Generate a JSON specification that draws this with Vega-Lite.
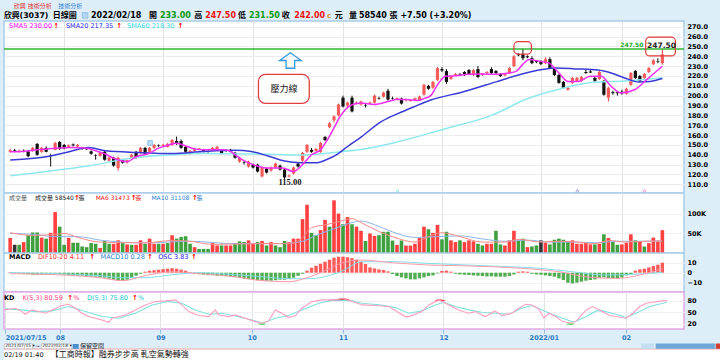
{
"$schema":"https://vega.github.io/schema/vega-lite/v6.json",
"background":"#ddeef9",
"padding":{"left":2,"top":0,"right":0,"bottom":0},
"bounds":"flush",
"spacing":0,
"resolve":{"scale":{"color":"independent"}},
"config":{"view":{"stroke":null},"axis":{"labelFont":"DejaVu Sans","labelFontWeight":"bold","labelFontSize":6.5,"labelColor":"#000","gridColor":"#e8e8e8","labelOverlap":false},"text":{"font":"DejaVu Sans, Noto Sans CJK TC"}},
"datasets":{
"candles":[
{"i":0,"o":143,"h":146,"l":142,"c":144.5,"v":38600,"vd":"u","m":0.5},
{"i":1,"o":144.5,"h":146,"l":142.5,"c":143,"v":21000,"vd":"k","m":0.3},
{"i":2,"o":143,"h":145,"l":142,"c":144,"v":21000,"vd":"d","m":-0.5},
{"i":3,"o":144,"h":145.5,"l":142.5,"c":143,"v":28000,"vd":"u","m":-1},
{"i":4,"o":143.5,"h":145,"l":137.5,"c":138.5,"v":45600,"vd":"d","m":-1.5},
{"i":5,"o":144,"h":148,"l":143,"c":147,"v":52600,"vd":"d","m":-2},
{"i":6,"o":151,"h":152,"l":139,"c":140,"v":52600,"vd":"d","m":-2},
{"i":7,"o":143,"h":148,"l":142,"c":147,"v":39500,"vd":"u","m":-2},
{"i":8,"o":147,"h":148.5,"l":142.5,"c":143,"v":36800,"vd":"d","m":-2},
{"i":9,"o":139.5,"h":141,"l":128,"c":139,"v":51700,"vd":"u","m":-1.5},
{"i":10,"o":145,"h":153,"l":144.5,"c":152,"v":105000,"vd":"u","m":-1},
{"i":11,"o":153,"h":154,"l":145,"c":146,"v":67500,"vd":"d","m":-1.5},
{"i":12,"o":150,"h":151,"l":145.5,"c":146.5,"v":21000,"vd":"d","m":-2},
{"i":13,"o":148,"h":150.5,"l":147,"c":149.5,"v":38600,"vd":"u","m":-2.5},
{"i":14,"o":150.5,"h":151.5,"l":148.5,"c":149.5,"v":26300,"vd":"d","m":-3},
{"i":15,"o":148.5,"h":151,"l":148,"c":150,"v":26300,"vd":"d","m":-3},
{"i":16,"o":147,"h":148,"l":145,"c":146,"v":16700,"vd":"d","m":-3},
{"i":17,"o":146.5,"h":147.5,"l":145,"c":145.5,"v":15000,"vd":"d","m":-3.5},
{"i":18,"o":143.5,"h":144.5,"l":140,"c":141,"v":25400,"vd":"d","m":-4},
{"i":19,"o":139.5,"h":140.5,"l":135,"c":139,"v":23700,"vd":"d","m":-4},
{"i":20,"o":139,"h":142.5,"l":138,"c":142,"v":13000,"vd":"u","m":-4.5},
{"i":21,"o":143,"h":144,"l":134,"c":135,"v":30700,"vd":"d","m":-5},
{"i":22,"o":134,"h":138,"l":133,"c":137,"v":23700,"vd":"d","m":-6},
{"i":23,"o":137,"h":138,"l":128,"c":129,"v":23700,"vd":"u","m":-7},
{"i":24,"o":126.5,"h":138,"l":124,"c":137,"v":32400,"vd":"u","m":-8},
{"i":25,"o":135,"h":136,"l":131,"c":132,"v":25400,"vd":"d","m":-8},
{"i":26,"o":132.5,"h":135,"l":131,"c":134.5,"v":22000,"vd":"u","m":-7},
{"i":27,"o":137,"h":141,"l":136,"c":140,"v":21000,"vd":"d","m":-5},
{"i":28,"o":143,"h":144,"l":136,"c":137,"v":21000,"vd":"u","m":-3},
{"i":29,"o":142,"h":148,"l":141,"c":147,"v":32400,"vd":"u","m":-1},
{"i":30,"o":147,"h":148,"l":140,"c":141,"v":23700,"vd":"d","m":1},
{"i":31,"o":143,"h":148,"l":142,"c":147,"v":36800,"vd":"u","m":2},
{"i":32,"o":147,"h":151,"l":146,"c":150,"v":23700,"vd":"u","m":2.5},
{"i":33,"o":149.5,"h":150.5,"l":148,"c":149,"v":23700,"vd":"d","m":3},
{"i":34,"o":149,"h":151,"l":148,"c":150,"v":23700,"vd":"u","m":3.5},
{"i":35,"o":148,"h":152,"l":147.5,"c":151,"v":25400,"vd":"d","m":4},
{"i":36,"o":150,"h":156,"l":149,"c":155,"v":45600,"vd":"u","m":4.5},
{"i":37,"o":154,"h":158.5,"l":150,"c":151,"v":36800,"vd":"d","m":4},
{"i":38,"o":154,"h":155.5,"l":146,"c":147,"v":41000,"vd":"d","m":3},
{"i":39,"o":148,"h":149,"l":142,"c":143,"v":43000,"vd":"d","m":2},
{"i":40,"o":141,"h":145,"l":140,"c":144,"v":23700,"vd":"d","m":0.5},
{"i":41,"o":144,"h":147,"l":143,"c":146,"v":15000,"vd":"u","m":-1},
{"i":42,"o":145.5,"h":147,"l":145,"c":146.5,"v":10500,"vd":"d","m":-1.5},
{"i":43,"o":145,"h":146,"l":142.5,"c":143,"v":10500,"vd":"d","m":-2},
{"i":44,"o":143.5,"h":144.5,"l":142,"c":143,"v":10500,"vd":"d","m":-2.5},
{"i":45,"o":144,"h":148,"l":143.5,"c":147,"v":25400,"vd":"u","m":-2.5},
{"i":46,"o":145,"h":149,"l":144.5,"c":148,"v":19300,"vd":"u","m":-3},
{"i":47,"o":144,"h":145,"l":140.5,"c":141,"v":19300,"vd":"d","m":-3},
{"i":48,"o":144.5,"h":145.5,"l":143,"c":144,"v":19300,"vd":"u","m":-3.5},
{"i":49,"o":145,"h":146,"l":142.5,"c":143,"v":19300,"vd":"u","m":-4},
{"i":50,"o":142,"h":143,"l":136,"c":137,"v":25400,"vd":"d","m":-4.5},
{"i":51,"o":133,"h":138,"l":132,"c":137,"v":29800,"vd":"d","m":-5},
{"i":52,"o":132.5,"h":133.5,"l":130,"c":132,"v":28000,"vd":"d","m":-6},
{"i":53,"o":128,"h":134,"l":127,"c":133,"v":32400,"vd":"u","m":-6.5},
{"i":54,"o":130,"h":131,"l":126,"c":127,"v":23700,"vd":"u","m":-7},
{"i":55,"o":130,"h":131,"l":122,"c":123,"v":28000,"vd":"d","m":-7.5},
{"i":56,"o":118,"h":128,"l":117,"c":127,"v":30700,"vd":"u","m":-8},
{"i":57,"o":126,"h":127,"l":121,"c":122,"v":19300,"vd":"d","m":-8},
{"i":58,"o":124,"h":128,"l":123,"c":127,"v":28000,"vd":"u","m":-8},
{"i":59,"o":127,"h":132,"l":126,"c":131,"v":19300,"vd":"d","m":-7.5},
{"i":60,"o":129,"h":130,"l":124,"c":125,"v":15000,"vd":"d","m":-7},
{"i":61,"o":125,"h":126,"l":115,"c":117,"v":30700,"vd":"d","m":-7},
{"i":62,"o":118,"h":120,"l":117,"c":119,"v":28000,"vd":"u","m":-6},
{"i":63,"o":121,"h":128,"l":120,"c":127,"v":36800,"vd":"u","m":-5},
{"i":64,"o":131,"h":132,"l":127,"c":128,"v":36800,"vd":"u","m":-3},
{"i":65,"o":134,"h":143,"l":133,"c":142,"v":86800,"vd":"u","m":-1},
{"i":66,"o":143,"h":151,"l":142,"c":150,"v":123700,"vd":"u","m":2},
{"i":67,"o":145,"h":147,"l":142,"c":143,"v":51700,"vd":"d","m":5},
{"i":68,"o":144,"h":147,"l":143,"c":146,"v":45600,"vd":"d","m":7},
{"i":69,"o":143,"h":153,"l":142,"c":152,"v":58800,"vd":"u","m":9},
{"i":70,"o":158,"h":159,"l":154,"c":155,"v":85000,"vd":"u","m":11},
{"i":71,"o":168,"h":173,"l":167,"c":172,"v":67500,"vd":"d","m":13},
{"i":72,"o":175,"h":180,"l":173,"c":179,"v":135000,"vd":"u","m":15},
{"i":73,"o":180,"h":192,"l":179,"c":191,"v":101000,"vd":"u","m":16},
{"i":74,"o":198,"h":200,"l":188,"c":189,"v":73700,"vd":"d","m":16},
{"i":75,"o":190,"h":194,"l":188,"c":193,"v":92000,"vd":"u","m":15.5},
{"i":76,"o":198,"h":200,"l":183,"c":184,"v":73700,"vd":"d","m":14.5},
{"i":77,"o":192,"h":194,"l":191,"c":193,"v":67500,"vd":"u","m":13},
{"i":78,"o":191,"h":195,"l":190,"c":194,"v":57000,"vd":"u","m":11},
{"i":79,"o":190.5,"h":192,"l":188,"c":190,"v":30700,"vd":"d","m":8.7},
{"i":80,"o":192,"h":194,"l":191,"c":193,"v":50000,"vd":"u","m":5.3},
{"i":81,"o":193,"h":201,"l":192,"c":200,"v":43900,"vd":"u","m":4.3},
{"i":82,"o":197.5,"h":199,"l":196,"c":197,"v":45600,"vd":"d","m":3.3},
{"i":83,"o":199,"h":204,"l":198,"c":203,"v":54400,"vd":"d","m":2.7},
{"i":84,"o":205,"h":207,"l":195,"c":196,"v":54400,"vd":"d","m":1.3},
{"i":85,"o":197.5,"h":199,"l":196,"c":197,"v":32000,"vd":"d","m":-1.3},
{"i":86,"o":196.5,"h":198,"l":196,"c":197.5,"v":21000,"vd":"u","m":-3.3},
{"i":87,"o":197,"h":198,"l":191,"c":192,"v":32000,"vd":"d","m":-4.7},
{"i":88,"o":195.5,"h":197,"l":194,"c":196.5,"v":19000,"vd":"u","m":-5.7},
{"i":89,"o":194.5,"h":196,"l":194,"c":195.5,"v":19000,"vd":"u","m":-6.7},
{"i":90,"o":196,"h":198,"l":195,"c":197.5,"v":23700,"vd":"u","m":-6.7},
{"i":91,"o":195,"h":200,"l":194.5,"c":199,"v":38600,"vd":"u","m":-5.7},
{"i":92,"o":201,"h":212,"l":200,"c":211,"v":67500,"vd":"u","m":-4.7},
{"i":93,"o":210,"h":211,"l":206,"c":207,"v":61000,"vd":"d","m":-3.3},
{"i":94,"o":208,"h":215,"l":207,"c":214,"v":51700,"vd":"u","m":-2.7},
{"i":95,"o":216,"h":229,"l":215,"c":228,"v":72000,"vd":"u","m":-0.7},
{"i":96,"o":227,"h":229,"l":224,"c":225.5,"v":35000,"vd":"d","m":1.7},
{"i":97,"o":225,"h":227,"l":212,"c":214,"v":54400,"vd":"d","m":2},
{"i":98,"o":217,"h":221,"l":216,"c":220,"v":32400,"vd":"u","m":1},
{"i":99,"o":221,"h":223,"l":220,"c":222,"v":28000,"vd":"u","m":-1},
{"i":100,"o":221.5,"h":223,"l":220,"c":221,"v":32400,"vd":"d","m":-1.7},
{"i":101,"o":224,"h":225,"l":220,"c":221,"v":28000,"vd":"u","m":-2},
{"i":102,"o":226,"h":227,"l":221,"c":222,"v":32400,"vd":"u","m":-2.3},
{"i":103,"o":221,"h":227,"l":220,"c":226,"v":29800,"vd":"u","m":-2.7},
{"i":104,"o":227,"h":230,"l":218,"c":219,"v":23700,"vd":"d","m":-3},
{"i":105,"o":221,"h":223,"l":220,"c":222.5,"v":19300,"vd":"d","m":-3.3},
{"i":106,"o":223,"h":225,"l":222,"c":224,"v":23700,"vd":"u","m":-3.7},
{"i":107,"o":227,"h":229,"l":222,"c":223,"v":23700,"vd":"u","m":-3.7},
{"i":108,"o":225,"h":226,"l":222,"c":223,"v":57000,"vd":"d","m":-4},
{"i":109,"o":222,"h":223,"l":219,"c":220,"v":22000,"vd":"d","m":-4},
{"i":110,"o":220.5,"h":223,"l":220,"c":222,"v":19300,"vd":"u","m":-4},
{"i":111,"o":223,"h":229,"l":222,"c":228,"v":32400,"vd":"u","m":-3.3},
{"i":112,"o":230,"h":241,"l":229,"c":240,"v":57000,"vd":"u","m":-1.7},
{"i":113,"o":242,"h":243,"l":240,"c":241,"v":32400,"vd":"d","m":1},
{"i":114,"o":242,"h":247.5,"l":236,"c":238,"v":36800,"vd":"d","m":1.3},
{"i":115,"o":240,"h":241,"l":238,"c":239,"v":15000,"vd":"u","m":1},
{"i":116,"o":238,"h":240,"l":232,"c":233,"v":16700,"vd":"d","m":-1},
{"i":117,"o":235,"h":236,"l":233,"c":234,"v":19300,"vd":"d","m":-1.7},
{"i":118,"o":235,"h":236,"l":231,"c":232,"v":32400,"vd":"k","m":-2},
{"i":119,"o":233,"h":239,"l":232,"c":237,"v":26300,"vd":"u","m":-2.7},
{"i":120,"o":237,"h":239,"l":227,"c":228,"v":22000,"vd":"d","m":-3.3},
{"i":121,"o":228,"h":229,"l":220,"c":221,"v":34000,"vd":"d","m":-4},
{"i":122,"o":221,"h":222,"l":212,"c":213,"v":36800,"vd":"d","m":-5.7},
{"i":123,"o":214,"h":215,"l":207,"c":208,"v":34000,"vd":"d","m":-7.3},
{"i":124,"o":206,"h":209,"l":205,"c":208,"v":28000,"vd":"d","m":-10},
{"i":125,"o":213,"h":219,"l":212,"c":218,"v":32400,"vd":"u","m":-10.7},
{"i":126,"o":215,"h":219,"l":214,"c":218,"v":23700,"vd":"u","m":-10},
{"i":127,"o":215,"h":220,"l":214,"c":219,"v":23700,"vd":"u","m":-9},
{"i":128,"o":224,"h":227,"l":222,"c":223,"v":26300,"vd":"u","m":-8},
{"i":129,"o":224.5,"h":227,"l":223,"c":223.5,"v":22000,"vd":"u","m":-7.3},
{"i":130,"o":218,"h":219,"l":214,"c":215,"v":22000,"vd":"d","m":-6.7},
{"i":131,"o":217,"h":225,"l":216,"c":224,"v":23700,"vd":"u","m":-5.3},
{"i":132,"o":215,"h":216,"l":200,"c":201,"v":48000,"vd":"d","m":-4.7},
{"i":133,"o":198,"h":209,"l":194,"c":208,"v":38600,"vd":"u","m":-5.3},
{"i":134,"o":203.5,"h":205,"l":201,"c":202.5,"v":28000,"vd":"d","m":-6},
{"i":135,"o":203.5,"h":204,"l":200,"c":202.5,"v":21000,"vd":"d","m":-6},
{"i":136,"o":204,"h":206,"l":201,"c":202.5,"v":22000,"vd":"u","m":-4.7},
{"i":137,"o":202,"h":208,"l":201,"c":207,"v":26300,"vd":"u","m":-2.7},
{"i":138,"o":211,"h":224,"l":210,"c":223,"v":48000,"vd":"u","m":-1.3},
{"i":139,"o":225,"h":226,"l":217,"c":218,"v":32400,"vd":"d","m":2},
{"i":140,"o":220,"h":221,"l":214,"c":215,"v":30700,"vd":"u","m":3.3},
{"i":141,"o":218,"h":223,"l":217,"c":222,"v":16700,"vd":"d","m":4},
{"i":142,"o":224,"h":229,"l":223,"c":228,"v":25400,"vd":"u","m":5.3},
{"i":143,"o":232,"h":237,"l":231,"c":236,"v":39500,"vd":"u","m":6.7},
{"i":144,"o":235,"h":238,"l":233,"c":234.5,"v":29800,"vd":"u","m":8},
{"i":145,"o":233,"h":247.5,"l":231.5,"c":242,"v":58540,"vd":"u","m":10}
],
"ma":[
{"s":"SMA60","i":0,"p":118.7},{"s":"SMA60","i":17.5,"p":128.9},{"s":"SMA60","i":28.4,"p":137.4},{"s":"SMA60","i":35.9,"p":140.1},{"s":"SMA60","i":42.7,"p":141.3},{"s":"SMA60","i":57.3,"p":140.5},{"s":"SMA60","i":64.6,"p":139.8},{"s":"SMA60","i":72,"p":142.3},{"s":"SMA60","i":78.2,"p":145.5},{"s":"SMA60","i":85.4,"p":152.3},{"s":"SMA60","i":96.3,"p":165.9},{"s":"SMA60","i":107.3,"p":180.5},{"s":"SMA60","i":114.7,"p":196.4},{"s":"SMA60","i":122,"p":206.5},{"s":"SMA60","i":129.2,"p":213.3},{"s":"SMA60","i":136.6,"p":214.9},{"s":"SMA60","i":145,"p":218.3},
{"s":"SMA20","i":0,"p":134.6},{"s":"SMA20","i":9,"p":138.8},{"s":"SMA20","i":12.4,"p":142.3},{"s":"SMA20","i":17.5,"p":147.4},{"s":"SMA20","i":21.2,"p":144},{"s":"SMA20","i":28.4,"p":142.3},{"s":"SMA20","i":36,"p":141.3},{"s":"SMA20","i":42.7,"p":143.3},{"s":"SMA20","i":50,"p":144.6},{"s":"SMA20","i":53.6,"p":143.3},{"s":"SMA20","i":57.3,"p":138.8},{"s":"SMA20","i":61,"p":133.7},{"s":"SMA20","i":64.6,"p":132},{"s":"SMA20","i":68.3,"p":132},{"s":"SMA20","i":70.5,"p":135.4},{"s":"SMA20","i":72.7,"p":140.5},{"s":"SMA20","i":75,"p":148.4},{"s":"SMA20","i":78,"p":158},{"s":"SMA20","i":82.5,"p":173.6},{"s":"SMA20","i":86.3,"p":182},{"s":"SMA20","i":89.8,"p":188.8},{"s":"SMA20","i":93.5,"p":195.6},{"s":"SMA20","i":100.8,"p":204},{"s":"SMA20","i":108,"p":214},{"s":"SMA20","i":113,"p":221},{"s":"SMA20","i":118.3,"p":226.5},{"s":"SMA20","i":121.3,"p":228},{"s":"SMA20","i":125.7,"p":227.2},{"s":"SMA20","i":130.7,"p":226},{"s":"SMA20","i":133.6,"p":223},{"s":"SMA20","i":136.6,"p":218},{"s":"SMA20","i":139.5,"p":214},{"s":"SMA20","i":142.3,"p":214.5},{"s":"SMA20","i":145,"p":217.35},
{"s":"SMA5","i":0,"p":143},{"s":"SMA5","i":3,"p":143.5},{"s":"SMA5","i":6,"p":145},{"s":"SMA5","i":10,"p":146.7},{"s":"SMA5","i":14,"p":147.5},{"s":"SMA5","i":17,"p":146.7},{"s":"SMA5","i":19,"p":144},{"s":"SMA5","i":21,"p":141},{"s":"SMA5","i":23,"p":136.5},{"s":"SMA5","i":26,"p":133},{"s":"SMA5","i":28,"p":138},{"s":"SMA5","i":31,"p":141.6},{"s":"SMA5","i":33,"p":146.7},{"s":"SMA5","i":35,"p":149.5},{"s":"SMA5","i":37,"p":151.8},{"s":"SMA5","i":39,"p":149},{"s":"SMA5","i":41,"p":146},{"s":"SMA5","i":43,"p":145},{"s":"SMA5","i":47.5,"p":145},{"s":"SMA5","i":49,"p":143.5},{"s":"SMA5","i":50,"p":140},{"s":"SMA5","i":52,"p":134},{"s":"SMA5","i":54,"p":130},{"s":"SMA5","i":57,"p":126.6},{"s":"SMA5","i":60.6,"p":126.6},{"s":"SMA5","i":63,"p":123},{"s":"SMA5","i":65,"p":130},{"s":"SMA5","i":67,"p":140},{"s":"SMA5","i":69,"p":145},{"s":"SMA5","i":70.5,"p":155},{"s":"SMA5","i":72,"p":167.4},{"s":"SMA5","i":73.5,"p":180},{"s":"SMA5","i":74.5,"p":185.8},{"s":"SMA5","i":76,"p":190.8},{"s":"SMA5","i":78,"p":192.5},{"s":"SMA5","i":81,"p":191},{"s":"SMA5","i":84,"p":194},{"s":"SMA5","i":86,"p":196},{"s":"SMA5","i":88,"p":196},{"s":"SMA5","i":90.6,"p":195},{"s":"SMA5","i":92,"p":197},{"s":"SMA5","i":93.5,"p":200},{"s":"SMA5","i":95,"p":211},{"s":"SMA5","i":96.8,"p":219.6},{"s":"SMA5","i":98.5,"p":220},{"s":"SMA5","i":102,"p":221.7},{"s":"SMA5","i":105,"p":222},{"s":"SMA5","i":108,"p":221.7},{"s":"SMA5","i":110,"p":222.5},{"s":"SMA5","i":112.5,"p":224.7},{"s":"SMA5","i":114,"p":232},{"s":"SMA5","i":115.4,"p":236.6},{"s":"SMA5","i":117.6,"p":235},{"s":"SMA5","i":119.8,"p":233},{"s":"SMA5","i":122,"p":223},{"s":"SMA5","i":124,"p":214.5},{"s":"SMA5","i":126.3,"p":214.5},{"s":"SMA5","i":129,"p":219.6},{"s":"SMA5","i":131.4,"p":219.6},{"s":"SMA5","i":133.6,"p":209.5},{"s":"SMA5","i":135.8,"p":202.7},{"s":"SMA5","i":138.8,"p":206},{"s":"SMA5","i":141.7,"p":217},{"s":"SMA5","i":145,"p":230}
],
"vma":[
{"s":"MA10","i":0,"v":50000},{"s":"MA10","i":5,"v":48000},{"s":"MA10","i":10,"v":42000},{"s":"MA10","i":15,"v":42000},{"s":"MA10","i":20,"v":33000},{"s":"MA10","i":30,"v":26000},{"s":"MA10","i":40,"v":30000},{"s":"MA10","i":50,"v":24000},{"s":"MA10","i":60,"v":24000},{"s":"MA10","i":65,"v":30000},{"s":"MA10","i":68,"v":45000},{"s":"MA10","i":72,"v":62000},{"s":"MA10","i":76,"v":78000},{"s":"MA10","i":78,"v":82000},{"s":"MA10","i":82,"v":68000},{"s":"MA10","i":86,"v":50000},{"s":"MA10","i":90,"v":40000},{"s":"MA10","i":95,"v":42000},{"s":"MA10","i":100,"v":44000},{"s":"MA10","i":105,"v":36000},{"s":"MA10","i":110,"v":30000},{"s":"MA10","i":115,"v":33000},{"s":"MA10","i":120,"v":28000},{"s":"MA10","i":126,"v":28000},{"s":"MA10","i":130,"v":26000},{"s":"MA10","i":135,"v":30000},{"s":"MA10","i":140,"v":30000},{"s":"MA10","i":145,"v":31108},
{"s":"MA6","i":0,"v":52000},{"s":"MA6","i":5,"v":45000},{"s":"MA6","i":10,"v":48000},{"s":"MA6","i":12,"v":50000},{"s":"MA6","i":15,"v":40000},{"s":"MA6","i":20,"v":28000},{"s":"MA6","i":30,"v":26000},{"s":"MA6","i":36,"v":32000},{"s":"MA6","i":40,"v":30000},{"s":"MA6","i":45,"v":22000},{"s":"MA6","i":55,"v":24000},{"s":"MA6","i":62,"v":24000},{"s":"MA6","i":65,"v":40000},{"s":"MA6","i":67,"v":65000},{"s":"MA6","i":70,"v":72000},{"s":"MA6","i":73,"v":80000},{"s":"MA6","i":76,"v":88000},{"s":"MA6","i":78,"v":78000},{"s":"MA6","i":82,"v":55000},{"s":"MA6","i":86,"v":38000},{"s":"MA6","i":90,"v":28000},{"s":"MA6","i":93,"v":42000},{"s":"MA6","i":96,"v":52000},{"s":"MA6","i":100,"v":42000},{"s":"MA6","i":105,"v":28000},{"s":"MA6","i":110,"v":28000},{"s":"MA6","i":113,"v":35000},{"s":"MA6","i":118,"v":28000},{"s":"MA6","i":122,"v":30000},{"s":"MA6","i":126,"v":28000},{"s":"MA6","i":130,"v":24000},{"s":"MA6","i":133,"v":32000},{"s":"MA6","i":137,"v":28000},{"s":"MA6","i":141,"v":30000},{"s":"MA6","i":145,"v":31473}
],
"macdl":[
{"s":"MACD","i":0,"v":0},{"s":"MACD","i":10,"v":-1},{"s":"MACD","i":20,"v":-3},{"s":"MACD","i":25,"v":-5},{"s":"MACD","i":30,"v":-5},{"s":"MACD","i":36,"v":-2},{"s":"MACD","i":42,"v":0},{"s":"MACD","i":50,"v":-2},{"s":"MACD","i":56,"v":-4},{"s":"MACD","i":62,"v":-6},{"s":"MACD","i":66,"v":-6},{"s":"MACD","i":70,"v":-4},{"s":"MACD","i":74,"v":2},{"s":"MACD","i":78,"v":11},{"s":"MACD","i":85,"v":11},{"s":"MACD","i":93,"v":9.3},{"s":"MACD","i":107,"v":6.7},{"s":"MACD","i":118,"v":4.3},{"s":"MACD","i":125,"v":1},{"s":"MACD","i":132,"v":-2.3},{"s":"MACD","i":140,"v":-1.3},{"s":"MACD","i":145,"v":0.28},
{"s":"DIF","i":0,"v":-1},{"s":"DIF","i":10,"v":-2},{"s":"DIF","i":20,"v":-5},{"s":"DIF","i":25,"v":-8},{"s":"DIF","i":30,"v":-3},{"s":"DIF","i":36,"v":1},{"s":"DIF","i":42,"v":-1},{"s":"DIF","i":50,"v":-4},{"s":"DIF","i":56,"v":-8},{"s":"DIF","i":62,"v":-9},{"s":"DIF","i":66,"v":-5},{"s":"DIF","i":70,"v":2},{"s":"DIF","i":74,"v":10},{"s":"DIF","i":78,"v":12.7},{"s":"DIF","i":85,"v":10},{"s":"DIF","i":93,"v":7.7},{"s":"DIF","i":100,"v":7},{"s":"DIF","i":107,"v":6},{"s":"DIF","i":114,"v":4.3},{"s":"DIF","i":122,"v":1},{"s":"DIF","i":129,"v":-4.7},{"s":"DIF","i":135,"v":-5.7},{"s":"DIF","i":140,"v":-2.3},{"s":"DIF","i":145,"v":4.11}
],
"kd":[
{"s":"D","i":0,"v":58.6},{"s":"D","i":3.7,"v":56},{"s":"D","i":6.6,"v":51.6},{"s":"D","i":10.3,"v":53.4},{"s":"D","i":13.9,"v":64.7},{"s":"D","i":17.6,"v":51.6},{"s":"D","i":21.2,"v":38.6},{"s":"D","i":24.9,"v":34.2},{"s":"D","i":28.5,"v":47.3},{"s":"D","i":32.2,"v":69},{"s":"D","i":35.8,"v":77.7},{"s":"D","i":38.7,"v":73.4},{"s":"D","i":41.6,"v":56},{"s":"D","i":44.6,"v":44.7},{"s":"D","i":47.5,"v":47.3},{"s":"D","i":50.4,"v":40.3},{"s":"D","i":54.1,"v":29.9},{"s":"D","i":56.3,"v":21.2},{"s":"D","i":59.2,"v":34.2},{"s":"D","i":62.1,"v":41.2},{"s":"D","i":65,"v":56},{"s":"D","i":68.7,"v":73.4},{"s":"D","i":72.3,"v":82.1},{"s":"D","i":76,"v":79.5},{"s":"D","i":78.2,"v":73.4},{"s":"D","i":82.5,"v":69},{"s":"D","i":85.4,"v":62},{"s":"D","i":88.4,"v":47.3},{"s":"D","i":91.3,"v":53.4},{"s":"D","i":94.2,"v":69},{"s":"D","i":96.1,"v":76},{"s":"D","i":98.6,"v":64.7},{"s":"D","i":101.5,"v":56},{"s":"D","i":104.4,"v":49.9},{"s":"D","i":107.3,"v":47.3},{"s":"D","i":110.3,"v":44.7},{"s":"D","i":113.2,"v":60.3},{"s":"D","i":115.4,"v":67.3},{"s":"D","i":117.6,"v":56},{"s":"D","i":119.8,"v":44.7},{"s":"D","i":122.1,"v":34.2},{"s":"D","i":124.6,"v":23.8},{"s":"D","i":127.3,"v":38.6},{"s":"D","i":129.5,"v":53.4},{"s":"D","i":130.9,"v":53.4},{"s":"D","i":133.8,"v":44.7},{"s":"D","i":136,"v":36},{"s":"D","i":139,"v":51.6},{"s":"D","i":141.2,"v":64.7},{"s":"D","i":145,"v":75.8},
{"s":"K","i":0,"v":56},{"s":"K","i":2.2,"v":60.3},{"s":"K","i":3.7,"v":51.6},{"s":"K","i":4.4,"v":44.7},{"s":"K","i":5.9,"v":56},{"s":"K","i":7.3,"v":51.6},{"s":"K","i":8.8,"v":47.3},{"s":"K","i":10.3,"v":56},{"s":"K","i":12.4,"v":67.3},{"s":"K","i":13.9,"v":70.8},{"s":"K","i":15.4,"v":60.3},{"s":"K","i":16.8,"v":47.3},{"s":"K","i":18.3,"v":38.6},{"s":"K","i":19.7,"v":34.2},{"s":"K","i":21.2,"v":29.9},{"s":"K","i":22.7,"v":23.8},{"s":"K","i":23.4,"v":34.2},{"s":"K","i":24.9,"v":38.6},{"s":"K","i":26.3,"v":42.9},{"s":"K","i":28.5,"v":56},{"s":"K","i":30.7,"v":69},{"s":"K","i":32.9,"v":77.7},{"s":"K","i":35.1,"v":79.5},{"s":"K","i":37.3,"v":82.1},{"s":"K","i":38.7,"v":69},{"s":"K","i":40.2,"v":51.6},{"s":"K","i":42.4,"v":41.2},{"s":"K","i":44.6,"v":38.6},{"s":"K","i":46,"v":56},{"s":"K","i":46.8,"v":42.9},{"s":"K","i":49,"v":38.6},{"s":"K","i":50.4,"v":42.9},{"s":"K","i":52.6,"v":34.2},{"s":"K","i":54.8,"v":25.5},{"s":"K","i":56.3,"v":21.2},{"s":"K","i":57.7,"v":27.3},{"s":"K","i":59.2,"v":56},{"s":"K","i":60.6,"v":47.3},{"s":"K","i":62.1,"v":36},{"s":"K","i":63.6,"v":41.2},{"s":"K","i":65,"v":60.3},{"s":"K","i":67.2,"v":77.7},{"s":"K","i":69.4,"v":82.1},{"s":"K","i":72.3,"v":82.1},{"s":"K","i":73.8,"v":86.4},{"s":"K","i":76,"v":77.7},{"s":"K","i":78.2,"v":69},{"s":"K","i":81.1,"v":67.3},{"s":"K","i":84,"v":64.7},{"s":"K","i":87.6,"v":38.6},{"s":"K","i":88.4,"v":38.6},{"s":"K","i":91.3,"v":51.6},{"s":"K","i":92.8,"v":69},{"s":"K","i":95,"v":82.1},{"s":"K","i":97.2,"v":69},{"s":"K","i":99.3,"v":56},{"s":"K","i":101.5,"v":47.3},{"s":"K","i":103,"v":51.6},{"s":"K","i":105.2,"v":38.6},{"s":"K","i":107.3,"v":53.4},{"s":"K","i":108.8,"v":41.2},{"s":"K","i":111,"v":47.3},{"s":"K","i":112.5,"v":60.3},{"s":"K","i":114,"v":70.8},{"s":"K","i":115.4,"v":69},{"s":"K","i":116.9,"v":58.6},{"s":"K","i":118,"v":35},{"s":"K","i":119.1,"v":47.3},{"s":"K","i":120.6,"v":38.6},{"s":"K","i":122.1,"v":25.5},{"s":"K","i":124,"v":21.2},{"s":"K","i":125.1,"v":27.3},{"s":"K","i":127.3,"v":56},{"s":"K","i":128.7,"v":64.7},{"s":"K","i":130.2,"v":56},{"s":"K","i":132.4,"v":41.2},{"s":"K","i":133.8,"v":38.6},{"s":"K","i":136,"v":34.2},{"s":"K","i":137.5,"v":47.3},{"s":"K","i":139,"v":64.7},{"s":"K","i":140.4,"v":73.4},{"s":"K","i":141.9,"v":76},{"s":"K","i":143.7,"v":79.5},{"s":"K","i":145,"v":80.59}
],
"kh":[
{"g":"r1","t":"hot","i":70.5,"lo":80,"hi":80},{"g":"r1","t":"hot","i":72,"lo":80,"hi":83},{"g":"r1","t":"hot","i":73.5,"lo":80,"hi":85.5},{"g":"r1","t":"hot","i":74.5,"lo":80,"hi":86},{"g":"r1","t":"hot","i":75.5,"lo":80,"hi":82},{"g":"r1","t":"hot","i":76.3,"lo":80,"hi":80},
{"g":"r2","t":"hot","i":94,"lo":80,"hi":80},{"g":"r2","t":"hot","i":95,"lo":80,"hi":83},{"g":"r2","t":"hot","i":96,"lo":80,"hi":82},{"g":"r2","t":"hot","i":96.6,"lo":80,"hi":80},
{"g":"g1","t":"cold","i":55.3,"lo":19,"hi":19},{"g":"g1","t":"cold","i":56.3,"lo":17.5,"hi":21.5},{"g":"g1","t":"cold","i":57.2,"lo":19,"hi":19},
{"g":"g2","t":"cold","i":122.8,"lo":19,"hi":19},{"g":"g2","t":"cold","i":123.8,"lo":17.5,"hi":21},{"g":"g2","t":"cold","i":124.8,"lo":19,"hi":19}
]
},
"vconcat":[
{"width":680,"height":21,"layer":[
{"data":{"values":[{}]},"mark":{"type":"text","text":"欣興 技術分析","align":"left","baseline":"middle","fontSize":6,"color":"#e03030"},"encoding":{"x":{"datum":1.9,"type":"quantitative","scale":{"domain":[-0.26,148.7],"nice":false,"zero":false},"axis":null},"y":{"datum":5.5,"type":"quantitative","scale":{"domain":[0,21],"reverse":true,"nice":false,"zero":false},"axis":null}}},
{"data":{"values":[{}]},"mark":{"type":"text","text":"技術分析","align":"left","baseline":"middle","fontSize":6,"color":"#3080d0"},"encoding":{"x":{"datum":11.6,"type":"quantitative","scale":{"domain":[-0.26,148.7],"nice":false,"zero":false},"axis":null},"y":{"datum":5.5,"type":"quantitative","scale":{"domain":[0,21],"reverse":true,"nice":false,"zero":false},"axis":null}}},
{"data":{"values":[{}]},"mark":{"type":"text","text":"欣興(3037)","align":"left","baseline":"middle","fontSize":7.8,"fontWeight":"bold","color":"#000"},"encoding":{"x":{"datum":-0.26,"type":"quantitative","scale":{"domain":[-0.26,148.7],"nice":false,"zero":false},"axis":null},"y":{"datum":15.5,"type":"quantitative","scale":{"domain":[0,21],"reverse":true,"nice":false,"zero":false},"axis":null}}},
{"data":{"values":[{}]},"mark":{"type":"text","text":"日線圖","align":"left","baseline":"middle","fontSize":8,"fontWeight":"bold","color":"#000"},"encoding":{"x":{"datum":10.4,"type":"quantitative","scale":{"domain":[-0.26,148.7],"nice":false,"zero":false},"axis":null},"y":{"datum":15.5,"type":"quantitative","scale":{"domain":[0,21],"reverse":true,"nice":false,"zero":false},"axis":null}}},
{"data":{"values":[{}]},"mark":{"type":"point","shape":"square","size":30,"filled":true,"fill":"#a8d0f0","stroke":"#6aa0d0","strokeWidth":0.8},"encoding":{"x":{"datum":17.5,"type":"quantitative","scale":{"domain":[-0.26,148.7],"nice":false,"zero":false},"axis":null},"y":{"datum":15.5,"type":"quantitative","scale":{"domain":[0,21],"reverse":true,"nice":false,"zero":false},"axis":null}}},
{"data":{"values":[{}]},"mark":{"type":"text","text":"2022/02/18","align":"left","baseline":"middle","fontSize":8,"fontWeight":"bold","color":"#000"},"encoding":{"x":{"datum":18.8,"type":"quantitative","scale":{"domain":[-0.26,148.7],"nice":false,"zero":false},"axis":null},"y":{"datum":15.5,"type":"quantitative","scale":{"domain":[0,21],"reverse":true,"nice":false,"zero":false},"axis":null}}},
{"data":{"values":[{}]},"mark":{"type":"text","text":"開","align":"left","baseline":"middle","fontSize":8,"fontWeight":"bold","color":"#000"},"encoding":{"x":{"datum":31.5,"type":"quantitative","scale":{"domain":[-0.26,148.7],"nice":false,"zero":false},"axis":null},"y":{"datum":15.5,"type":"quantitative","scale":{"domain":[0,21],"reverse":true,"nice":false,"zero":false},"axis":null}}},
{"data":{"values":[{}]},"mark":{"type":"text","text":"233.00","align":"left","baseline":"middle","fontSize":8,"fontWeight":"bold","color":"#0a9a0a"},"encoding":{"x":{"datum":33.9,"type":"quantitative","scale":{"domain":[-0.26,148.7],"nice":false,"zero":false},"axis":null},"y":{"datum":15.5,"type":"quantitative","scale":{"domain":[0,21],"reverse":true,"nice":false,"zero":false},"axis":null}}},
{"data":{"values":[{}]},"mark":{"type":"text","text":"高","align":"left","baseline":"middle","fontSize":8,"fontWeight":"bold","color":"#000"},"encoding":{"x":{"datum":41.4,"type":"quantitative","scale":{"domain":[-0.26,148.7],"nice":false,"zero":false},"axis":null},"y":{"datum":15.5,"type":"quantitative","scale":{"domain":[0,21],"reverse":true,"nice":false,"zero":false},"axis":null}}},
{"data":{"values":[{}]},"mark":{"type":"text","text":"247.50","align":"left","baseline":"middle","fontSize":8,"fontWeight":"bold","color":"#f01010"},"encoding":{"x":{"datum":43.8,"type":"quantitative","scale":{"domain":[-0.26,148.7],"nice":false,"zero":false},"axis":null},"y":{"datum":15.5,"type":"quantitative","scale":{"domain":[0,21],"reverse":true,"nice":false,"zero":false},"axis":null}}},
{"data":{"values":[{}]},"mark":{"type":"text","text":"低","align":"left","baseline":"middle","fontSize":8,"fontWeight":"bold","color":"#000"},"encoding":{"x":{"datum":51,"type":"quantitative","scale":{"domain":[-0.26,148.7],"nice":false,"zero":false},"axis":null},"y":{"datum":15.5,"type":"quantitative","scale":{"domain":[0,21],"reverse":true,"nice":false,"zero":false},"axis":null}}},
{"data":{"values":[{}]},"mark":{"type":"text","text":"231.50","align":"left","baseline":"middle","fontSize":8,"fontWeight":"bold","color":"#0a9a0a"},"encoding":{"x":{"datum":53.4,"type":"quantitative","scale":{"domain":[-0.26,148.7],"nice":false,"zero":false},"axis":null},"y":{"datum":15.5,"type":"quantitative","scale":{"domain":[0,21],"reverse":true,"nice":false,"zero":false},"axis":null}}},
{"data":{"values":[{}]},"mark":{"type":"text","text":"收","align":"left","baseline":"middle","fontSize":8,"fontWeight":"bold","color":"#000"},"encoding":{"x":{"datum":60.6,"type":"quantitative","scale":{"domain":[-0.26,148.7],"nice":false,"zero":false},"axis":null},"y":{"datum":15.5,"type":"quantitative","scale":{"domain":[0,21],"reverse":true,"nice":false,"zero":false},"axis":null}}},
{"data":{"values":[{}]},"mark":{"type":"text","text":"242.00","align":"left","baseline":"middle","fontSize":8,"fontWeight":"bold","color":"#f01010"},"encoding":{"x":{"datum":63.3,"type":"quantitative","scale":{"domain":[-0.26,148.7],"nice":false,"zero":false},"axis":null},"y":{"datum":15.5,"type":"quantitative","scale":{"domain":[0,21],"reverse":true,"nice":false,"zero":false},"axis":null}}},
{"data":{"values":[{}]},"mark":{"type":"text","text":"c","align":"left","baseline":"middle","fontSize":7,"fontWeight":"bold","color":"#d08a30"},"encoding":{"x":{"datum":70.5,"type":"quantitative","scale":{"domain":[-0.26,148.7],"nice":false,"zero":false},"axis":null},"y":{"datum":16,"type":"quantitative","scale":{"domain":[0,21],"reverse":true,"nice":false,"zero":false},"axis":null}}},
{"data":{"values":[{}]},"mark":{"type":"text","text":"元","align":"left","baseline":"middle","fontSize":8,"fontWeight":"bold","color":"#000"},"encoding":{"x":{"datum":72.2,"type":"quantitative","scale":{"domain":[-0.26,148.7],"nice":false,"zero":false},"axis":null},"y":{"datum":15.5,"type":"quantitative","scale":{"domain":[0,21],"reverse":true,"nice":false,"zero":false},"axis":null}}},
{"data":{"values":[{}]},"mark":{"type":"text","text":"量","align":"left","baseline":"middle","fontSize":8,"fontWeight":"bold","color":"#000"},"encoding":{"x":{"datum":75.3,"type":"quantitative","scale":{"domain":[-0.26,148.7],"nice":false,"zero":false},"axis":null},"y":{"datum":15.5,"type":"quantitative","scale":{"domain":[0,21],"reverse":true,"nice":false,"zero":false},"axis":null}}},
{"data":{"values":[{}]},"mark":{"type":"text","text":"58540 張  +7.50 (+3.20%)","align":"left","baseline":"middle","fontSize":8,"fontWeight":"bold","color":"#000"},"encoding":{"x":{"datum":77.5,"type":"quantitative","scale":{"domain":[-0.26,148.7],"nice":false,"zero":false},"axis":null},"y":{"datum":15.5,"type":"quantitative","scale":{"domain":[0,21],"reverse":true,"nice":false,"zero":false},"axis":null}}}
]},
{"width":680,"height":172,"view":{"fill":"white","stroke":"#a9cde9","strokeWidth":1.5},"layer":[
{"data":{"name":"candles"},"mark":{"type":"rule","strokeWidth":1},"encoding":{"x":{"field":"i","type":"quantitative","scale":{"domain":[-0.26,148.7],"nice":false,"zero":false},"axis":{"values":[12,34,54,74,96,118,136],"tickCount":50,"labels":false,"ticks":false,"domain":false,"grid":true,"gridColor":"#e2e2e2","title":null}},"y":{"field":"l","type":"quantitative","scale":{"domain":[101.2,275.8],"nice":false,"zero":false},"axis":{"orient":"right","values":[110,120,130,140,150,160,170,180,190,200,210,220,230,240,250,260,270],"tickCount":50,"format":".1f","ticks":false,"domain":false,"labelPadding":3,"labelOverlap":false,"grid":true,"gridColor":"#ececec","title":null}},"y2":{"field":"h"},"color":{"condition":{"test":"datum.c>=datum.o","value":"#e84040"},"value":"#111111"}}},
{"data":{"name":"candles"},"mark":{"type":"bar","size":3.2},"encoding":{"x":{"field":"i","type":"quantitative"},"y":{"field":"o","type":"quantitative"},"y2":{"field":"c"},"color":{"condition":{"test":"datum.c>=datum.o","value":"#f45c5c"},"value":"#111111"}}},
{"data":{"name":"ma"},"mark":{"type":"line","strokeWidth":1.5,"interpolate":"monotone"},"encoding":{"x":{"field":"i","type":"quantitative"},"y":{"field":"p","type":"quantitative"},"color":{"field":"s","type":"nominal","scale":{"domain":["SMA5","SMA20","SMA60"],"range":["#f030f0","#3a3ad6","#8ee8ee"]},"legend":null}}},
{"data":{"values":[{}]},"mark":{"type":"rule","color":"#2fb52f","strokeWidth":1.5},"encoding":{"y":{"datum":247.5,"type":"quantitative"}}},
{"data":{"values":[{}]},"mark":{"type":"rect","fill":"white","fillOpacity":0,"stroke":"#e03a3a","strokeWidth":1.2,"cornerRadius":4},"encoding":{"x":{"datum":112,"type":"quantitative"},"x2":{"datum":115.9},"y":{"datum":254.8,"type":"quantitative"},"y2":{"datum":242.2}}},
{"data":{"values":[{}]},"mark":{"type":"rect","fill":"white","fillOpacity":0,"stroke":"#e03a3a","strokeWidth":1.2,"cornerRadius":4},"encoding":{"x":{"datum":141.3,"type":"quantitative"},"x2":{"datum":147.9},"y":{"datum":259.4,"type":"quantitative"},"y2":{"datum":240.3}}},
{"data":{"values":[{}]},"mark":{"type":"text","text":"247.50","align":"center","baseline":"middle","fontSize":7.5,"fontWeight":"bold","color":"#222"},"encoding":{"x":{"datum":144.8,"type":"quantitative"},"y":{"datum":250.7,"type":"quantitative"}}},
{"data":{"values":[{}]},"mark":{"type":"rect","fill":"white","stroke":"#e04040","strokeWidth":1.3,"cornerRadius":7},"encoding":{"x":{"datum":55.2,"type":"quantitative"},"x2":{"datum":66.5},"y":{"datum":221.7,"type":"quantitative"},"y2":{"datum":192.2}}},
{"data":{"values":[{}]},"mark":{"type":"text","text":"壓力線","align":"center","baseline":"middle","fontSize":9,"font":"Noto Sans CJK TC","color":"#222"},"encoding":{"x":{"datum":60.9,"type":"quantitative"},"y":{"datum":207,"type":"quantitative"}}},
{"data":{"values":[{}]},"mark":{"type":"point","shape":"M0,-0.72L1,0L0.4,0L0.4,0.72L-0.4,0.72L-0.4,0L-1,0Z","size":466,"filled":false,"stroke":"#3399dd","strokeWidth":1.3,"opacity":1},"encoding":{"x":{"datum":62.3,"type":"quantitative"},"y":{"datum":235.7,"type":"quantitative"}}},
{"data":{"values":[{}]},"mark":{"type":"text","text":"115.00","align":"center","baseline":"middle","fontSize":8.5,"fontWeight":"bold","font":"Liberation Serif","color":"#111"},"encoding":{"x":{"datum":62.2,"type":"quantitative"},"y":{"datum":112,"type":"quantitative"}}},
{"data":{"values":[{}]},"mark":{"type":"point","shape":"square","size":22,"filled":true,"fill":"#a0d0f8","stroke":"#4aa0e8","strokeWidth":0.8},"encoding":{"x":{"datum":31.1,"type":"quantitative"},"y":{"datum":152,"type":"quantitative"}}},
{"data":{"values":[{}]},"mark":{"type":"point","shape":"triangle-up","size":16,"filled":false,"stroke":"#66dddd","strokeWidth":1},"encoding":{"x":{"datum":86.1,"type":"quantitative"},"y":{"datum":103,"type":"quantitative"}}},
{"data":{"values":[{}]},"mark":{"type":"point","shape":"triangle-up","size":16,"filled":false,"stroke":"#7777dd","strokeWidth":1},"encoding":{"x":{"datum":126.1,"type":"quantitative"},"y":{"datum":103,"type":"quantitative"}}},
{"data":{"values":[{}]},"mark":{"type":"point","shape":"triangle-up","size":16,"filled":false,"stroke":"#ff66cc","strokeWidth":1},"encoding":{"x":{"datum":141,"type":"quantitative"},"y":{"datum":103,"type":"quantitative"}}},
{"data":{"values":[{}]},"mark":{"type":"text","text":"SMA5 230.00","align":"left","baseline":"middle","fontSize":6.5,"color":"#ff00ff"},"encoding":{"x":{"datum":-0.26,"type":"quantitative"},"y":{"datum":271,"type":"quantitative"}}},
{"data":{"values":[{}]},"mark":{"type":"text","text":"↑","align":"left","baseline":"middle","fontSize":7,"fontWeight":"bold","color":"#ff0000"},"encoding":{"x":{"datum":9.6,"type":"quantitative"},"y":{"datum":271,"type":"quantitative"}}},
{"data":{"values":[{}]},"mark":{"type":"text","text":"SMA20 217.35","align":"left","baseline":"middle","fontSize":6.5,"color":"#2a2aee"},"encoding":{"x":{"datum":12.4,"type":"quantitative"},"y":{"datum":271,"type":"quantitative"}}},
{"data":{"values":[{}]},"mark":{"type":"text","text":"↑","align":"left","baseline":"middle","fontSize":7,"fontWeight":"bold","color":"#ff0000"},"encoding":{"x":{"datum":23.6,"type":"quantitative"},"y":{"datum":271,"type":"quantitative"}}},
{"data":{"values":[{}]},"mark":{"type":"text","text":"SMA60 218.30","align":"left","baseline":"middle","fontSize":6.5,"color":"#33d8dd"},"encoding":{"x":{"datum":26,"type":"quantitative"},"y":{"datum":271,"type":"quantitative"}}},
{"data":{"values":[{}]},"mark":{"type":"text","text":"↑","align":"left","baseline":"middle","fontSize":7,"fontWeight":"bold","color":"#ff0000"},"encoding":{"x":{"datum":37.2,"type":"quantitative"},"y":{"datum":271,"type":"quantitative"}}},
{"data":{"values":[{}]},"mark":{"type":"text","text":"247.50","align":"right","baseline":"bottom","fontSize":6,"fontWeight":"bold","color":"#22aa22"},"encoding":{"x":{"datum":140.8,"type":"quantitative"},"y":{"datum":248.6,"type":"quantitative"}}}
]},
{"width":680,"height":60,"view":{"fill":"white","stroke":"#a9cde9","strokeWidth":1.5},"resolve":{"scale":{"color":"independent"}},"layer":[
{"data":{"name":"candles"},"mark":{"type":"bar","size":3.6},"encoding":{"x":{"field":"i","type":"quantitative","scale":{"domain":[-0.26,148.7],"nice":false,"zero":false},"axis":{"values":[12,34,54,74,96,118,136],"tickCount":50,"labels":false,"ticks":false,"domain":false,"grid":true,"gridColor":"#e2e2e2","title":null}},"y":{"field":"v","type":"quantitative","scale":{"domain":[0,153800],"nice":false,"zero":false},"axis":{"orient":"right","values":[50000,100000],"tickCount":50,"labelExpr":"format(datum.value/1000,'d')+'K'","ticks":false,"domain":false,"labelPadding":3,"labelOverlap":false,"grid":true,"gridColor":"#f0f0f0","title":null}},"color":{"field":"vd","type":"nominal","scale":{"domain":["u","d","k"],"range":["#ff4040","#3fa03f","#333333"]},"legend":null}}},
{"data":{"name":"vma"},"mark":{"type":"line","strokeWidth":1,"interpolate":"monotone"},"encoding":{"x":{"field":"i","type":"quantitative"},"y":{"field":"v","type":"quantitative"},"color":{"field":"s","type":"nominal","scale":{"domain":["MA6","MA10"],"range":["#ff8a8a","#8ab8e8"]},"legend":null}}},
{"data":{"values":[{}]},"mark":{"type":"text","text":"成交量","align":"left","baseline":"middle","fontSize":6,"color":"#555"},"encoding":{"x":{"datum":-0.26,"type":"quantitative"},"y":{"datum":141000,"type":"quantitative"}}},
{"data":{"values":[{}]},"mark":{"type":"text","text":"成交量 58540","align":"left","baseline":"middle","fontSize":6,"color":"#222"},"encoding":{"x":{"datum":5.5,"type":"quantitative"},"y":{"datum":141000,"type":"quantitative"}}},
{"data":{"values":[{}]},"mark":{"type":"text","text":"↑","align":"left","baseline":"middle","fontSize":7,"fontWeight":"bold","color":"#ff0000"},"encoding":{"x":{"datum":14.2,"type":"quantitative"},"y":{"datum":141000,"type":"quantitative"}}},
{"data":{"values":[{}]},"mark":{"type":"text","text":"張","align":"left","baseline":"middle","fontSize":6,"color":"#222"},"encoding":{"x":{"datum":15.2,"type":"quantitative"},"y":{"datum":141000,"type":"quantitative"}}},
{"data":{"values":[{}]},"mark":{"type":"text","text":"MA6 31473","align":"left","baseline":"middle","fontSize":6,"color":"#ee2020"},"encoding":{"x":{"datum":19,"type":"quantitative"},"y":{"datum":141000,"type":"quantitative"}}},
{"data":{"values":[{}]},"mark":{"type":"text","text":"↑","align":"left","baseline":"middle","fontSize":7,"fontWeight":"bold","color":"#ff0000"},"encoding":{"x":{"datum":26.8,"type":"quantitative"},"y":{"datum":141000,"type":"quantitative"}}},
{"data":{"values":[{}]},"mark":{"type":"text","text":"張","align":"left","baseline":"middle","fontSize":6,"color":"#ee2020"},"encoding":{"x":{"datum":27.8,"type":"quantitative"},"y":{"datum":141000,"type":"quantitative"}}},
{"data":{"values":[{}]},"mark":{"type":"text","text":"MA10 31108","align":"left","baseline":"middle","fontSize":6,"color":"#2f7fd0"},"encoding":{"x":{"datum":31.4,"type":"quantitative"},"y":{"datum":141000,"type":"quantitative"}}},
{"data":{"values":[{}]},"mark":{"type":"text","text":"↑","align":"left","baseline":"middle","fontSize":7,"fontWeight":"bold","color":"#ff0000"},"encoding":{"x":{"datum":40.4,"type":"quantitative"},"y":{"datum":141000,"type":"quantitative"}}},
{"data":{"values":[{}]},"mark":{"type":"text","text":"張","align":"left","baseline":"middle","fontSize":6,"color":"#2f7fd0"},"encoding":{"x":{"datum":41.4,"type":"quantitative"},"y":{"datum":141000,"type":"quantitative"}}}
]},
{"width":680,"height":39,"view":{"fill":"white","stroke":"#a9cde9","strokeWidth":1.5},"resolve":{"scale":{"color":"independent"}},"layer":[
{"data":{"name":"candles"},"mark":{"type":"bar","size":3.4},"encoding":{"x":{"field":"i","type":"quantitative","scale":{"domain":[-0.26,148.7],"nice":false,"zero":false},"axis":{"values":[12,34,54,74,96,118,136],"tickCount":50,"labels":false,"ticks":false,"domain":false,"grid":true,"gridColor":"#e2e2e2","title":null}},"y":{"field":"m","type":"quantitative","scale":{"domain":[-19.3,19.7],"nice":false,"zero":false},"axis":{"orient":"right","values":[-10,0,10],"tickCount":50,"ticks":false,"domain":false,"labelPadding":3,"labelOverlap":false,"grid":true,"gridColor":"#f0f0f0","title":null}},"y2":{"datum":0},"color":{"condition":{"test":"datum.m>=0","value":"#ff5a5a"},"value":"#52ad52"}}},
{"data":{"name":"macdl"},"mark":{"type":"line","strokeWidth":1,"interpolate":"monotone"},"encoding":{"x":{"field":"i","type":"quantitative"},"y":{"field":"v","type":"quantitative"},"color":{"field":"s","type":"nominal","scale":{"domain":["DIF","MACD"],"range":["#ff9aaa","#80dde8"]},"legend":null}}},
{"data":{"values":[{}]},"mark":{"type":"text","text":"MACD","align":"left","baseline":"middle","fontSize":6.5,"fontWeight":"bold","color":"#000"},"encoding":{"x":{"datum":-0.26,"type":"quantitative"},"y":{"datum":15.7,"type":"quantitative"}}},
{"data":{"values":[{}]},"mark":{"type":"text","text":"DIF10-20 4.11","align":"left","baseline":"middle","fontSize":6.5,"color":"#ff3030"},"encoding":{"x":{"datum":6.2,"type":"quantitative"},"y":{"datum":15.7,"type":"quantitative"}}},
{"data":{"values":[{}]},"mark":{"type":"text","text":"↑","align":"left","baseline":"middle","fontSize":7,"fontWeight":"bold","color":"#ff0000"},"encoding":{"x":{"datum":17.6,"type":"quantitative"},"y":{"datum":15.7,"type":"quantitative"}}},
{"data":{"values":[{}]},"mark":{"type":"text","text":"MACD10 0.28","align":"left","baseline":"middle","fontSize":6.5,"color":"#3080d0"},"encoding":{"x":{"datum":20.1,"type":"quantitative"},"y":{"datum":15.7,"type":"quantitative"}}},
{"data":{"values":[{}]},"mark":{"type":"text","text":"↑","align":"left","baseline":"middle","fontSize":7,"fontWeight":"bold","color":"#ff0000"},"encoding":{"x":{"datum":30.4,"type":"quantitative"},"y":{"datum":15.7,"type":"quantitative"}}},
{"data":{"values":[{}]},"mark":{"type":"text","text":"OSC 3.83","align":"left","baseline":"middle","fontSize":6.5,"color":"#2020ee"},"encoding":{"x":{"datum":32.9,"type":"quantitative"},"y":{"datum":15.7,"type":"quantitative"}}},
{"data":{"values":[{}]},"mark":{"type":"text","text":"↑","align":"left","baseline":"middle","fontSize":7,"fontWeight":"bold","color":"#ff0000"},"encoding":{"x":{"datum":40.2,"type":"quantitative"},"y":{"datum":15.7,"type":"quantitative"}}}
]},
{"width":680,"height":37,"view":{"fill":"white","stroke":"#e2a6e2","strokeWidth":1.5},"resolve":{"scale":{"color":"independent"}},"layer":[
{"data":{"name":"kh"},"mark":{"type":"area","interpolate":"monotone"},"encoding":{"x":{"field":"i","type":"quantitative","scale":{"domain":[-0.26,148.7],"nice":false,"zero":false},"axis":{"values":[0,12,34,54,74,96,118,136],"tickCount":50,"labelExpr":"datum.value==0?'2021/07/15':datum.value==12?'08':datum.value==34?'09':datum.value==54?'10':datum.value==74?'11':datum.value==96?'12':datum.value==118?'2022/01':'02'","labelColor":"#2b78c2","labelFontSize":6.5,"ticks":true,"tickSize":4,"tickColor":"#8dbbe0","domain":false,"labelPadding":1,"labelOverlap":false,"grid":true,"gridColor":"#e2e2e2","labelAlign":{"condition":{"test":"datum.value==0","value":"left"},"value":"center"},"title":null,"orient":"bottom"}},"y":{"field":"hi","type":"quantitative","scale":{"domain":[6.2,102.7],"nice":false,"zero":false},"axis":{"orient":"right","values":[20,50,80],"tickCount":50,"ticks":false,"domain":false,"labelPadding":3,"labelOverlap":false,"grid":true,"gridColor":"#f0f0f0","title":null}},"y2":{"field":"lo"},"detail":{"field":"g"},"color":{"field":"t","type":"nominal","scale":{"domain":["hot","cold"],"range":["#ee1111","#33cc33"]},"legend":null}}},
{"data":{"name":"kd"},"mark":{"type":"line","strokeWidth":1.1},"encoding":{"x":{"field":"i","type":"quantitative"},"y":{"field":"v","type":"quantitative"},"color":{"field":"s","type":"nominal","scale":{"domain":["K","D"],"range":["#ff9fbf","#80e0e0"]},"legend":null}}},
{"data":{"values":[{}]},"mark":{"type":"text","text":"KD","align":"left","baseline":"middle","fontSize":6.5,"fontWeight":"bold","color":"#000"},"encoding":{"x":{"datum":-0.26,"type":"quantitative"},"y":{"datum":87.3,"type":"quantitative"}}},
{"data":{"values":[{}]},"mark":{"type":"text","text":"K(5,3) 80.59","align":"left","baseline":"middle","fontSize":6.5,"color":"#ff4080"},"encoding":{"x":{"datum":3.8,"type":"quantitative"},"y":{"datum":87.3,"type":"quantitative"}}},
{"data":{"values":[{}]},"mark":{"type":"text","text":"↑","align":"left","baseline":"middle","fontSize":7,"fontWeight":"bold","color":"#ff0000"},"encoding":{"x":{"datum":13.6,"type":"quantitative"},"y":{"datum":87.3,"type":"quantitative"}}},
{"data":{"values":[{}]},"mark":{"type":"text","text":"%","align":"left","baseline":"middle","fontSize":6.5,"color":"#ff4080"},"encoding":{"x":{"datum":14.9,"type":"quantitative"},"y":{"datum":87.3,"type":"quantitative"}}},
{"data":{"values":[{}]},"mark":{"type":"text","text":"D(5,3) 75.80","align":"left","baseline":"middle","fontSize":6.5,"color":"#22c8cc"},"encoding":{"x":{"datum":17.9,"type":"quantitative"},"y":{"datum":87.3,"type":"quantitative"}}},
{"data":{"values":[{}]},"mark":{"type":"text","text":"↑","align":"left","baseline":"middle","fontSize":7,"fontWeight":"bold","color":"#ff0000"},"encoding":{"x":{"datum":27.8,"type":"quantitative"},"y":{"datum":87.3,"type":"quantitative"}}},
{"data":{"values":[{}]},"mark":{"type":"text","text":"%","align":"left","baseline":"middle","fontSize":6.5,"color":"#22c8cc"},"encoding":{"x":{"datum":29.1,"type":"quantitative"},"y":{"datum":87.3,"type":"quantitative"}}}
]},
{"width":680,"height":31,"layer":[
{"data":{"values":[{}]},"mark":{"type":"rect","fill":"white"},"encoding":{"x":{"datum":-0.26,"type":"quantitative","scale":{"domain":[-0.26,148.7],"nice":false,"zero":false},"axis":null},"x2":{"datum":157},"y":{"datum":20,"type":"quantitative","scale":{"domain":[0,31],"reverse":true,"nice":false,"zero":false},"axis":null},"y2":{"datum":31}}},
{"data":{"values":[{}]},"mark":{"type":"rule","color":"#f0a8a8","strokeWidth":1},"encoding":{"x":{"datum":-0.26,"type":"quantitative","scale":{"domain":[-0.26,148.7],"nice":false,"zero":false},"axis":null},"x2":{"datum":157},"y":{"datum":20,"type":"quantitative","scale":{"domain":[0,31],"reverse":true,"nice":false,"zero":false},"axis":null}}},
{"data":{"values":[{}]},"mark":{"type":"rect","fill":"white","stroke":"#9a9a9a","strokeWidth":0.5},"encoding":{"x":{"datum":-0.2,"type":"quantitative","scale":{"domain":[-0.26,148.7],"nice":false,"zero":false},"axis":null},"x2":{"datum":6},"y":{"datum":15,"type":"quantitative","scale":{"domain":[0,31],"reverse":true,"nice":false,"zero":false},"axis":null},"y2":{"datum":19.8}}},
{"data":{"values":[{}]},"mark":{"type":"rect","fill":"white","stroke":"#9a9a9a","strokeWidth":0.5},"encoding":{"x":{"datum":7.9,"type":"quantitative","scale":{"domain":[-0.26,148.7],"nice":false,"zero":false},"axis":null},"x2":{"datum":14.6},"y":{"datum":15,"type":"quantitative","scale":{"domain":[0,31],"reverse":true,"nice":false,"zero":false},"axis":null},"y2":{"datum":19.8}}},
{"data":{"values":[{}]},"mark":{"type":"text","text":"2021/07/15 ▾","align":"left","baseline":"middle","fontSize":4.5,"color":"#222"},"encoding":{"x":{"datum":0,"type":"quantitative","scale":{"domain":[-0.26,148.7],"nice":false,"zero":false},"axis":null},"y":{"datum":17.4,"type":"quantitative","scale":{"domain":[0,31],"reverse":true,"nice":false,"zero":false},"axis":null}}},
{"data":{"values":[{}]},"mark":{"type":"text","text":"~","align":"left","baseline":"middle","fontSize":6,"color":"#222"},"encoding":{"x":{"datum":6.6,"type":"quantitative","scale":{"domain":[-0.26,148.7],"nice":false,"zero":false},"axis":null},"y":{"datum":17.4,"type":"quantitative","scale":{"domain":[0,31],"reverse":true,"nice":false,"zero":false},"axis":null}}},
{"data":{"values":[{}]},"mark":{"type":"text","text":"2022/02/18 ▾","align":"left","baseline":"middle","fontSize":4.5,"color":"#222"},"encoding":{"x":{"datum":8.1,"type":"quantitative","scale":{"domain":[-0.26,148.7],"nice":false,"zero":false},"axis":null},"y":{"datum":17.4,"type":"quantitative","scale":{"domain":[0,31],"reverse":true,"nice":false,"zero":false},"axis":null}}},
{"data":{"values":[{}]},"mark":{"type":"rect","fill":"#4a90d0"},"encoding":{"x":{"datum":14.8,"type":"quantitative","scale":{"domain":[-0.26,148.7],"nice":false,"zero":false},"axis":null},"x2":{"datum":16.1},"y":{"datum":15,"type":"quantitative","scale":{"domain":[0,31],"reverse":true,"nice":false,"zero":false},"axis":null},"y2":{"datum":19.8}}},
{"data":{"values":[{}]},"mark":{"type":"text","text":"保留空間","align":"left","baseline":"middle","fontSize":6,"color":"#222"},"encoding":{"x":{"datum":16.4,"type":"quantitative","scale":{"domain":[-0.26,148.7],"nice":false,"zero":false},"axis":null},"y":{"datum":17.4,"type":"quantitative","scale":{"domain":[0,31],"reverse":true,"nice":false,"zero":false},"axis":null}}},
{"data":{"values":[{}]},"mark":{"type":"rect","fill":"#c4def2"},"encoding":{"x":{"datum":139.3,"type":"quantitative","scale":{"domain":[-0.26,148.7],"nice":false,"zero":false},"axis":null},"x2":{"datum":142.1},"y":{"datum":14.5,"type":"quantitative","scale":{"domain":[0,31],"reverse":true,"nice":false,"zero":false},"axis":null},"y2":{"datum":19.8}}},
{"data":{"values":[{}]},"mark":{"type":"rect","fill":"#6fa8d6"},"encoding":{"x":{"datum":142.5,"type":"quantitative","scale":{"domain":[-0.26,148.7],"nice":false,"zero":false},"axis":null},"x2":{"datum":155.6},"y":{"datum":14.5,"type":"quantitative","scale":{"domain":[0,31],"reverse":true,"nice":false,"zero":false},"axis":null},"y2":{"datum":19.8}}},
{"data":{"values":[{}]},"mark":{"type":"rect","fill":"#d04030"},"encoding":{"x":{"datum":155.7,"type":"quantitative","scale":{"domain":[-0.26,148.7],"nice":false,"zero":false},"axis":null},"x2":{"datum":157},"y":{"datum":14.5,"type":"quantitative","scale":{"domain":[0,31],"reverse":true,"nice":false,"zero":false},"axis":null},"y2":{"datum":19.8}}},
{"data":{"values":[{}]},"mark":{"type":"text","text":"02/19 01:40","align":"left","baseline":"middle","fontSize":6.5,"color":"#111"},"encoding":{"x":{"datum":-0.26,"type":"quantitative","scale":{"domain":[-0.26,148.7],"nice":false,"zero":false},"axis":null},"y":{"datum":26,"type":"quantitative","scale":{"domain":[0,31],"reverse":true,"nice":false,"zero":false},"axis":null}}},
{"data":{"values":[{}]},"mark":{"type":"text","text":"【工商時報】融券步步高 軋空氣勢轉強","align":"left","baseline":"middle","fontSize":8,"font":"Noto Sans CJK TC","color":"#111"},"encoding":{"x":{"datum":10,"type":"quantitative","scale":{"domain":[-0.26,148.7],"nice":false,"zero":false},"axis":null},"y":{"datum":26,"type":"quantitative","scale":{"domain":[0,31],"reverse":true,"nice":false,"zero":false},"axis":null}}}
]}
]
}
